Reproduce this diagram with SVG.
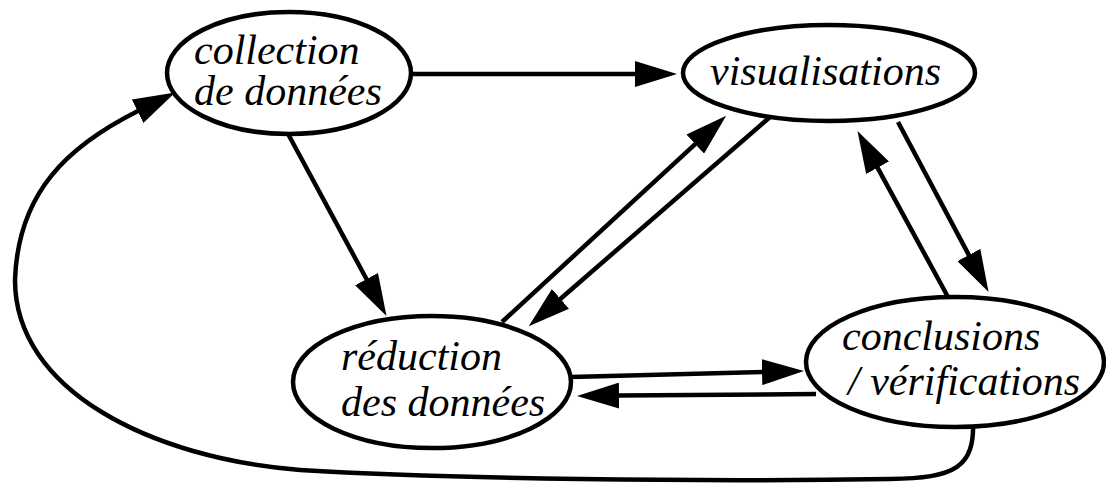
<svg xmlns="http://www.w3.org/2000/svg" width="1106" height="485" viewBox="0 0 1106 485">
<style>
.shape{fill:#fff;stroke:#000;stroke-width:4.5}
.edge{fill:none;stroke:#000;stroke-width:4.5;marker-end:url(#ah)}
.lbl{font-family:'Liberation Serif','Times New Roman',serif;font-style:italic;font-size:42px;fill:#000}
</style>
<defs>
<marker id="ah" markerUnits="userSpaceOnUse" viewBox="0 0 42 26" markerWidth="42" markerHeight="26" refX="1" refY="13" orient="auto">
<path d="M0,0 L42,13 L0,26 z" fill="#000"/>
</marker>
</defs>
<rect width="1106" height="485" fill="#fff"/>
<g id="connectors">
<path class="edge" d="M411,74 L636,74"/>
<path class="edge" d="M287,132 L367,280"/>
<path class="edge" d="M502,322 L696,143.4"/>
<path class="edge" d="M770,117 L559.7,299.5"/>
<path class="edge" d="M571,377 L763,372.1"/>
<path class="edge" d="M816,394 L618,395.6"/>
<path class="edge" d="M948,297 L877.1,166.9"/>
<path class="edge" d="M898,122 L969.3,255.9"/>
<path class="edge" d="M973,420 C975,468 955,478 890,479 C700,482 450,479 300,470 C150,458 15,390 15,280 C18,192 68,146 138.5,110.8"/>
</g>
<g id="n-collection">
<ellipse class="shape" cx="289" cy="73" rx="122" ry="61"/>
<text class="lbl" x="194" y="64">collection</text>
<text class="lbl" x="194" y="105">de données</text>
</g>
<g id="n-visualisations">
<ellipse class="shape" cx="829" cy="73" rx="146" ry="48"/>
<text class="lbl" x="710" y="85">visualisations</text>
</g>
<g id="n-reduction">
<ellipse class="shape" cx="432" cy="382" rx="139" ry="66"/>
<text class="lbl" x="341" y="370">réduction</text>
<text class="lbl" x="341" y="416">des données</text>
</g>
<g id="n-conclusions">
<ellipse class="shape" cx="955" cy="362" rx="149" ry="65"/>
<text class="lbl" x="842" y="350">conclusions</text>
<text class="lbl" x="848" y="395">/ vérifications</text>
</g>
</svg>
